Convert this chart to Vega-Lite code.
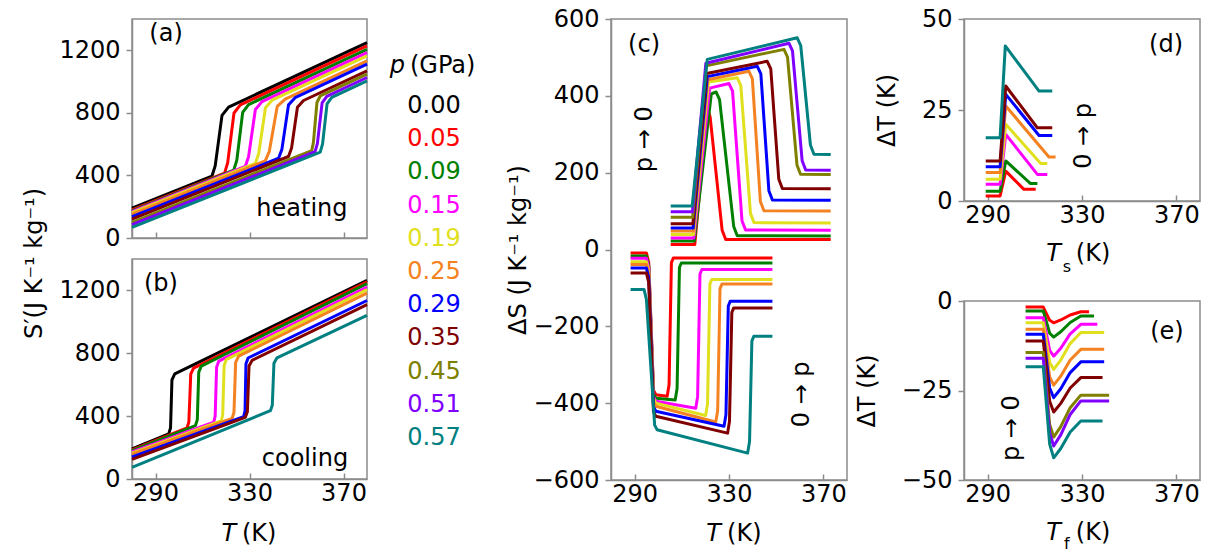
{
  "$schema": "https://vega.github.io/schema/vega-lite/v6.json",
  "background": "white",
  "padding": {"left": 22, "top": 6, "right": 5, "bottom": 5},
  "config": {
    "font": "DejaVu Sans",
    "view": {"stroke": "#8c8c8c", "strokeWidth": 1.5},
    "axis": {"domainColor": "#8c8c8c", "domainWidth": 1.5, "tickColor": "#8c8c8c", "tickWidth": 1.5, "tickSize": 6, "labelPadding": 6, "labelFontSize": 24, "titleFontSize": 24, "labelColor": "black", "titleColor": "black", "titleFontWeight": "normal", "labelFont": "DejaVu Sans", "titleFont": "DejaVu Sans", "grid": false},
    "axisX": {"tickSize": -6, "labelPadding": 8, "titlePadding": 12},
    "line": {"strokeWidth": 3, "strokeJoin": "round"},
    "text": {"font": "DejaVu Sans", "fontSize": 24, "color": "black"}
  },
  "datasets": {
    "a": [
      {"p":"0.00","T":280,"S":191},{"p":"0.00","T":314.0,"S":395},{"p":"0.00","T":315.4,"S":461},{"p":"0.00","T":318.3,"S":784},{"p":"0.00","T":321.1,"S":837},{"p":"0.00","T":380,"S":1249},
      {"p":"0.05","T":280,"S":179},{"p":"0.05","T":319.4,"S":415},{"p":"0.05","T":320.7,"S":480},{"p":"0.05","T":323.4,"S":799},{"p":"0.05","T":326.1,"S":851},{"p":"0.05","T":380,"S":1228},
      {"p":"0.09","T":280,"S":174},{"p":"0.09","T":323.3,"S":434},{"p":"0.09","T":324.6,"S":497},{"p":"0.09","T":327.1,"S":803},{"p":"0.09","T":329.6,"S":853},{"p":"0.09","T":380,"S":1206},
      {"p":"0.15","T":280,"S":168},{"p":"0.15","T":328.2,"S":457},{"p":"0.15","T":329.6,"S":519},{"p":"0.15","T":332.5,"S":822},{"p":"0.15","T":335.3,"S":872},{"p":"0.15","T":380,"S":1185},
      {"p":"0.19","T":280,"S":162},{"p":"0.19","T":332.5,"S":477},{"p":"0.19","T":333.9,"S":538},{"p":"0.19","T":336.8,"S":833},{"p":"0.19","T":339.6,"S":881},{"p":"0.19","T":380,"S":1164},
      {"p":"0.25","T":280,"S":153},{"p":"0.25","T":336.7,"S":493},{"p":"0.25","T":338.4,"S":552},{"p":"0.25","T":341.8,"S":841},{"p":"0.25","T":345.2,"S":888},{"p":"0.25","T":380,"S":1132},
      {"p":"0.29","T":280,"S":136},{"p":"0.29","T":342.4,"S":510},{"p":"0.29","T":343.8,"S":568},{"p":"0.29","T":346.6,"S":851},{"p":"0.29","T":349.4,"S":897},{"p":"0.29","T":380,"S":1111},
      {"p":"0.35","T":280,"S":121},{"p":"0.35","T":346.6,"S":521},{"p":"0.35","T":347.9,"S":575},{"p":"0.35","T":350.4,"S":836},{"p":"0.35","T":353.0,"S":879},{"p":"0.35","T":380,"S":1068},
      {"p":"0.45","T":280,"S":100},{"p":"0.45","T":356.5,"S":559},{"p":"0.45","T":357.2,"S":611},{"p":"0.45","T":358.7,"S":866},{"p":"0.45","T":360.1,"S":908},{"p":"0.45","T":380,"S":1047},
      {"p":"0.51","T":280,"S":85},{"p":"0.51","T":357.9,"S":552},{"p":"0.51","T":358.9,"S":605},{"p":"0.51","T":360.9,"S":864},{"p":"0.51","T":362.9,"S":906},{"p":"0.51","T":380,"S":1026},
      {"p":"0.57","T":280,"S":68},{"p":"0.57","T":360.1,"S":549},{"p":"0.57","T":361.1,"S":602},{"p":"0.57","T":363.0,"S":857},{"p":"0.57","T":365.0,"S":899},{"p":"0.57","T":380,"S":1004}
    ],
    "b": [
      {"p":"0.00","T":280,"S":191},{"p":"0.00","T":295.6,"S":287},{"p":"0.00","T":296.4,"S":325},{"p":"0.00","T":297.0,"S":631},{"p":"0.00","T":298.2,"S":669},{"p":"0.00","T":380,"S":1264},
      {"p":"0.05","T":280,"S":185},{"p":"0.05","T":303.4,"S":325},{"p":"0.05","T":304.2,"S":363},{"p":"0.05","T":305.0,"S":667},{"p":"0.05","T":306.2,"S":705},{"p":"0.05","T":380,"S":1255},
      {"p":"0.09","T":280,"S":180},{"p":"0.09","T":307.0,"S":340},{"p":"0.09","T":307.8,"S":378},{"p":"0.09","T":308.4,"S":680},{"p":"0.09","T":309.5,"S":718},{"p":"0.09","T":380,"S":1243},
      {"p":"0.15","T":280,"S":172},{"p":"0.15","T":314.8,"S":362},{"p":"0.15","T":315.4,"S":401},{"p":"0.15","T":316.0,"S":711},{"p":"0.15","T":316.9,"S":750},{"p":"0.15","T":380,"S":1222},
      {"p":"0.19","T":280,"S":165},{"p":"0.19","T":318.0,"S":370},{"p":"0.19","T":318.6,"S":409},{"p":"0.19","T":319.2,"S":721},{"p":"0.19","T":320.1,"S":760},{"p":"0.19","T":380,"S":1205},
      {"p":"0.25","T":280,"S":158},{"p":"0.25","T":322.6,"S":385},{"p":"0.25","T":323.4,"S":425},{"p":"0.25","T":324.1,"S":742},{"p":"0.25","T":325.4,"S":782},{"p":"0.25","T":380,"S":1183},
      {"p":"0.29","T":280,"S":140},{"p":"0.29","T":327.5,"S":397},{"p":"0.29","T":328.1,"S":434},{"p":"0.29","T":328.5,"S":733},{"p":"0.29","T":329.4,"S":770},{"p":"0.29","T":380,"S":1136},
      {"p":"0.35","T":280,"S":125},{"p":"0.35","T":328.2,"S":392},{"p":"0.35","T":329.1,"S":428},{"p":"0.35","T":329.8,"S":719},{"p":"0.35","T":331.1,"S":755},{"p":"0.35","T":380,"S":1110},
      {"p":"0.57","T":280,"S":74},{"p":"0.57","T":338.9,"S":435},{"p":"0.57","T":339.7,"S":469},{"p":"0.57","T":340.4,"S":737},{"p":"0.57","T":341.7,"S":771},{"p":"0.57","T":380,"S":1041}
    ],
    "c": [
      {"p":"0.05","g":"up","T":305.3,"S":13},{"p":"0.05","g":"up","T":315.5,"S":13},{"p":"0.05","g":"up","T":320.8,"S":369},{"p":"0.05","g":"up","T":322.0,"S":345},{"p":"0.05","g":"up","T":327.1,"S":50},{"p":"0.05","g":"up","T":328.6,"S":26},{"p":"0.05","g":"up","T":373.1,"S":26},
      {"p":"0.09","g":"up","T":305.3,"S":22},{"p":"0.09","g":"up","T":315.3,"S":22},{"p":"0.09","g":"up","T":322.5,"S":405},{"p":"0.09","g":"up","T":324.5,"S":410},{"p":"0.09","g":"up","T":326.0,"S":390},{"p":"0.09","g":"up","T":332.0,"S":60},{"p":"0.09","g":"up","T":333.5,"S":36},{"p":"0.09","g":"up","T":373.1,"S":35},
      {"p":"0.15","g":"up","T":305.3,"S":30},{"p":"0.15","g":"up","T":315.1,"S":30},{"p":"0.15","g":"up","T":321.8,"S":420},{"p":"0.15","g":"up","T":330.0,"S":432},{"p":"0.15","g":"up","T":331.5,"S":412},{"p":"0.15","g":"up","T":335.5,"S":75},{"p":"0.15","g":"up","T":337.0,"S":51},{"p":"0.15","g":"up","T":373.1,"S":50},
      {"p":"0.19","g":"up","T":305.3,"S":39},{"p":"0.19","g":"up","T":315.0,"S":39},{"p":"0.19","g":"up","T":321.3,"S":436},{"p":"0.19","g":"up","T":333.5,"S":447},{"p":"0.19","g":"up","T":335.0,"S":427},{"p":"0.19","g":"up","T":339.1,"S":94},{"p":"0.19","g":"up","T":340.6,"S":70},{"p":"0.19","g":"up","T":373.1,"S":69},
      {"p":"0.25","g":"up","T":305.3,"S":48},{"p":"0.25","g":"up","T":314.9,"S":48},{"p":"0.25","g":"up","T":321.0,"S":442},{"p":"0.25","g":"up","T":338.4,"S":464},{"p":"0.25","g":"up","T":339.9,"S":444},{"p":"0.25","g":"up","T":343.3,"S":125},{"p":"0.25","g":"up","T":344.8,"S":101},{"p":"0.25","g":"up","T":373.1,"S":100},
      {"p":"0.29","g":"up","T":305.3,"S":56},{"p":"0.29","g":"up","T":314.8,"S":56},{"p":"0.29","g":"up","T":320.8,"S":450},{"p":"0.29","g":"up","T":342.0,"S":477},{"p":"0.29","g":"up","T":343.5,"S":457},{"p":"0.29","g":"up","T":346.9,"S":153},{"p":"0.29","g":"up","T":348.4,"S":129},{"p":"0.29","g":"up","T":373.1,"S":128},
      {"p":"0.35","g":"up","T":305.3,"S":67},{"p":"0.35","g":"up","T":314.7,"S":67},{"p":"0.35","g":"up","T":320.5,"S":458},{"p":"0.35","g":"up","T":346.2,"S":490},{"p":"0.35","g":"up","T":347.7,"S":470},{"p":"0.35","g":"up","T":351.1,"S":183},{"p":"0.35","g":"up","T":352.6,"S":159},{"p":"0.35","g":"up","T":373.1,"S":158},
      {"p":"0.45","g":"up","T":305.3,"S":84},{"p":"0.45","g":"up","T":314.6,"S":84},{"p":"0.45","g":"up","T":320.3,"S":478},{"p":"0.45","g":"up","T":353.3,"S":521},{"p":"0.45","g":"up","T":354.8,"S":501},{"p":"0.45","g":"up","T":358.8,"S":220},{"p":"0.45","g":"up","T":360.3,"S":196},{"p":"0.45","g":"up","T":373.1,"S":195},
      {"p":"0.51","g":"up","T":305.3,"S":98},{"p":"0.51","g":"up","T":314.5,"S":98},{"p":"0.51","g":"up","T":320.2,"S":485},{"p":"0.51","g":"up","T":355.4,"S":537},{"p":"0.51","g":"up","T":356.9,"S":517},{"p":"0.51","g":"up","T":361.0,"S":231},{"p":"0.51","g":"up","T":362.5,"S":207},{"p":"0.51","g":"up","T":373.1,"S":206},
      {"p":"0.57","g":"up","T":305.3,"S":113},{"p":"0.57","g":"up","T":314.4,"S":113},{"p":"0.57","g":"up","T":320.8,"S":495},{"p":"0.57","g":"up","T":358.9,"S":551},{"p":"0.57","g":"up","T":360.4,"S":531},{"p":"0.57","g":"up","T":364.5,"S":272},{"p":"0.57","g":"up","T":366.0,"S":248},{"p":"0.57","g":"up","T":373.1,"S":247},
      {"p":"0.05","g":"down","T":288.3,"S":-9},{"p":"0.05","g":"down","T":295.0,"S":-9},{"p":"0.05","g":"down","T":296.0,"S":-34},{"p":"0.05","g":"down","T":298.0,"S":-366},{"p":"0.05","g":"down","T":299.0,"S":-378},{"p":"0.05","g":"down","T":303.8,"S":-382},{"p":"0.05","g":"down","T":304.6,"S":-352},{"p":"0.05","g":"down","T":305.6,"S":-34},{"p":"0.05","g":"down","T":306.4,"S":-22},{"p":"0.05","g":"down","T":348.4,"S":-22},
      {"p":"0.09","g":"down","T":288.3,"S":-17},{"p":"0.09","g":"down","T":295.0,"S":-17},{"p":"0.09","g":"down","T":296.0,"S":-42},{"p":"0.09","g":"down","T":298.0,"S":-375},{"p":"0.09","g":"down","T":299.0,"S":-387},{"p":"0.09","g":"down","T":307.2,"S":-392},{"p":"0.09","g":"down","T":308.0,"S":-362},{"p":"0.09","g":"down","T":309.0,"S":-47},{"p":"0.09","g":"down","T":309.8,"S":-35},{"p":"0.09","g":"down","T":348.4,"S":-35},
      {"p":"0.15","g":"down","T":288.3,"S":-23},{"p":"0.15","g":"down","T":295.0,"S":-23},{"p":"0.15","g":"down","T":296.0,"S":-48},{"p":"0.15","g":"down","T":298.0,"S":-383},{"p":"0.15","g":"down","T":299.0,"S":-395},{"p":"0.15","g":"down","T":315.9,"S":-413},{"p":"0.15","g":"down","T":316.7,"S":-383},{"p":"0.15","g":"down","T":317.7,"S":-64},{"p":"0.15","g":"down","T":318.5,"S":-52},{"p":"0.15","g":"down","T":348.4,"S":-52},
      {"p":"0.19","g":"down","T":288.3,"S":-32},{"p":"0.19","g":"down","T":295.0,"S":-32},{"p":"0.19","g":"down","T":296.0,"S":-57},{"p":"0.19","g":"down","T":298.0,"S":-388},{"p":"0.19","g":"down","T":299.0,"S":-400},{"p":"0.19","g":"down","T":320.1,"S":-432},{"p":"0.19","g":"down","T":320.9,"S":-402},{"p":"0.19","g":"down","T":321.9,"S":-90},{"p":"0.19","g":"down","T":322.7,"S":-78},{"p":"0.19","g":"down","T":348.4,"S":-78},
      {"p":"0.25","g":"down","T":288.3,"S":-39},{"p":"0.25","g":"down","T":295.0,"S":-39},{"p":"0.25","g":"down","T":296.0,"S":-64},{"p":"0.25","g":"down","T":298.0,"S":-396},{"p":"0.25","g":"down","T":299.0,"S":-408},{"p":"0.25","g":"down","T":324.4,"S":-449},{"p":"0.25","g":"down","T":325.2,"S":-419},{"p":"0.25","g":"down","T":326.2,"S":-102},{"p":"0.25","g":"down","T":327.0,"S":-90},{"p":"0.25","g":"down","T":348.4,"S":-90},
      {"p":"0.29","g":"down","T":288.3,"S":-48},{"p":"0.29","g":"down","T":295.0,"S":-48},{"p":"0.29","g":"down","T":296.0,"S":-73},{"p":"0.29","g":"down","T":298.0,"S":-409},{"p":"0.29","g":"down","T":299.0,"S":-421},{"p":"0.29","g":"down","T":327.9,"S":-460},{"p":"0.29","g":"down","T":328.7,"S":-430},{"p":"0.29","g":"down","T":329.7,"S":-147},{"p":"0.29","g":"down","T":330.5,"S":-135},{"p":"0.29","g":"down","T":348.4,"S":-135},
      {"p":"0.35","g":"down","T":288.3,"S":-61},{"p":"0.35","g":"down","T":295.0,"S":-61},{"p":"0.35","g":"down","T":296.0,"S":-86},{"p":"0.35","g":"down","T":298.0,"S":-422},{"p":"0.35","g":"down","T":299.0,"S":-434},{"p":"0.35","g":"down","T":329.4,"S":-478},{"p":"0.35","g":"down","T":330.2,"S":-448},{"p":"0.35","g":"down","T":331.2,"S":-164},{"p":"0.35","g":"down","T":332.0,"S":-152},{"p":"0.35","g":"down","T":348.4,"S":-152},
      {"p":"0.57","g":"down","T":288.3,"S":-104},{"p":"0.57","g":"down","T":294.0,"S":-104},{"p":"0.57","g":"down","T":295.0,"S":-130},{"p":"0.57","g":"down","T":298.5,"S":-457},{"p":"0.57","g":"down","T":299.5,"S":-469},{"p":"0.57","g":"down","T":337.9,"S":-530},{"p":"0.57","g":"down","T":338.7,"S":-500},{"p":"0.57","g":"down","T":339.7,"S":-238},{"p":"0.57","g":"down","T":340.5,"S":-226},{"p":"0.57","g":"down","T":348.4,"S":-226}
    ],
    "d": [
      {"p":"0.05","T":289.2,"D":1.4},{"p":"0.05","T":295.3,"D":1.4},{"p":"0.05","T":297.7,"D":8.2},{"p":"0.05","T":305.4,"D":3.2},{"p":"0.05","T":310.4,"D":3.2},
      {"p":"0.09","T":289.2,"D":2.7},{"p":"0.09","T":295.3,"D":2.7},{"p":"0.09","T":297.7,"D":11.0},{"p":"0.09","T":308.2,"D":4.8},{"p":"0.09","T":311.1,"D":4.8},
      {"p":"0.15","T":289.2,"D":4.6},{"p":"0.15","T":295.3,"D":4.6},{"p":"0.15","T":297.7,"D":18.3},{"p":"0.15","T":311.1,"D":7.3},{"p":"0.15","T":315.3,"D":7.3},
      {"p":"0.19","T":289.2,"D":6.0},{"p":"0.19","T":295.3,"D":6.0},{"p":"0.19","T":297.7,"D":21.1},{"p":"0.19","T":312.5,"D":10.3},{"p":"0.19","T":315.3,"D":10.3},
      {"p":"0.25","T":289.2,"D":7.8},{"p":"0.25","T":295.3,"D":7.8},{"p":"0.25","T":297.7,"D":26.1},{"p":"0.25","T":316.0,"D":12.1},{"p":"0.25","T":318.8,"D":12.1},
      {"p":"0.29","T":289.2,"D":9.4},{"p":"0.29","T":295.3,"D":9.4},{"p":"0.29","T":297.7,"D":29.3},{"p":"0.29","T":311.8,"D":18.0},{"p":"0.29","T":317.4,"D":18.0},
      {"p":"0.35","T":289.2,"D":11.0},{"p":"0.35","T":295.3,"D":11.0},{"p":"0.35","T":297.7,"D":31.6},{"p":"0.35","T":311.1,"D":20.1},{"p":"0.35","T":317.4,"D":20.1},
      {"p":"0.57","T":289.2,"D":17.4},{"p":"0.57","T":295.3,"D":17.4},{"p":"0.57","T":297.5,"D":42.6},{"p":"0.57","T":311.8,"D":30.2},{"p":"0.57","T":317.4,"D":30.2}
    ],
    "e": [
      {"p":"0.05","T":306.1,"D":-1.7},{"p":"0.05","T":313.6,"D":-1.7},{"p":"0.05","T":316.3,"D":-5.4},{"p":"0.05","T":318.0,"D":-6.1},{"p":"0.05","T":321.0,"D":-5.3},{"p":"0.05","T":325.0,"D":-3.9},{"p":"0.05","T":329.5,"D":-3.0},{"p":"0.05","T":333.0,"D":-3.0},
      {"p":"0.09","T":306.1,"D":-2.8},{"p":"0.09","T":313.6,"D":-2.8},{"p":"0.09","T":316.3,"D":-9.0},{"p":"0.09","T":318.0,"D":-10.1},{"p":"0.09","T":321.0,"D":-8.6},{"p":"0.09","T":325.0,"D":-6.0},{"p":"0.09","T":329.5,"D":-4.2},{"p":"0.09","T":335.1,"D":-4.2},
      {"p":"0.15","T":306.1,"D":-4.7},{"p":"0.15","T":313.6,"D":-4.7},{"p":"0.15","T":316.3,"D":-13.8},{"p":"0.15","T":318.0,"D":-15.4},{"p":"0.15","T":321.0,"D":-13.2},{"p":"0.15","T":325.0,"D":-9.2},{"p":"0.15","T":329.5,"D":-6.5},{"p":"0.15","T":336.5,"D":-6.5},
      {"p":"0.19","T":306.1,"D":-6.1},{"p":"0.19","T":313.6,"D":-6.1},{"p":"0.19","T":316.3,"D":-17.2},{"p":"0.19","T":318.0,"D":-19.1},{"p":"0.19","T":321.0,"D":-16.5},{"p":"0.19","T":325.0,"D":-11.9},{"p":"0.19","T":329.5,"D":-8.8},{"p":"0.19","T":339.4,"D":-8.8},
      {"p":"0.25","T":306.1,"D":-7.9},{"p":"0.25","T":313.6,"D":-7.9},{"p":"0.25","T":316.3,"D":-21.2},{"p":"0.25","T":318.0,"D":-23.5},{"p":"0.25","T":321.0,"D":-21.0},{"p":"0.25","T":325.0,"D":-16.5},{"p":"0.25","T":329.5,"D":-13.5},{"p":"0.25","T":339.4,"D":-13.5},
      {"p":"0.29","T":306.1,"D":-9.3},{"p":"0.29","T":313.6,"D":-9.3},{"p":"0.29","T":316.3,"D":-24.3},{"p":"0.29","T":318.0,"D":-27.0},{"p":"0.29","T":321.0,"D":-24.5},{"p":"0.29","T":325.0,"D":-20.0},{"p":"0.29","T":329.5,"D":-17.0},{"p":"0.29","T":339.4,"D":-17.0},
      {"p":"0.35","T":306.1,"D":-11.2},{"p":"0.35","T":313.6,"D":-11.2},{"p":"0.35","T":316.3,"D":-28.0},{"p":"0.35","T":318.0,"D":-31.0},{"p":"0.35","T":321.0,"D":-28.6},{"p":"0.35","T":325.0,"D":-24.3},{"p":"0.35","T":329.5,"D":-21.4},{"p":"0.35","T":338.7,"D":-21.4},
      {"p":"0.45","T":306.1,"D":-14.4},{"p":"0.45","T":313.6,"D":-14.4},{"p":"0.45","T":316.3,"D":-34.5},{"p":"0.45","T":318.0,"D":-38.0},{"p":"0.45","T":321.0,"D":-35.1},{"p":"0.45","T":325.0,"D":-29.8},{"p":"0.45","T":329.5,"D":-26.3},{"p":"0.45","T":341.5,"D":-26.3},
      {"p":"0.51","T":306.1,"D":-16.0},{"p":"0.51","T":313.6,"D":-16.0},{"p":"0.51","T":316.3,"D":-36.8},{"p":"0.51","T":318.0,"D":-40.5},{"p":"0.51","T":321.0,"D":-37.4},{"p":"0.51","T":325.0,"D":-31.7},{"p":"0.51","T":329.5,"D":-27.9},{"p":"0.51","T":341.5,"D":-27.9},
      {"p":"0.57","T":306.1,"D":-18.4},{"p":"0.57","T":313.6,"D":-18.4},{"p":"0.57","T":316.3,"D":-40.0},{"p":"0.57","T":318.0,"D":-43.8},{"p":"0.57","T":321.0,"D":-41.2},{"p":"0.57","T":325.0,"D":-36.6},{"p":"0.57","T":329.5,"D":-33.5},{"p":"0.57","T":338.7,"D":-33.5}
    ],
    "legend": [
      {"p":"0.00"},{"p":"0.05"},{"p":"0.09"},{"p":"0.15"},{"p":"0.19"},{"p":"0.25"},{"p":"0.29"},{"p":"0.35"},{"p":"0.45"},{"p":"0.51"},{"p":"0.57"}
    ]
  },
  "bounds": "flush",
  "spacing": 0,
  "hconcat": [
    {
      "bounds": "flush",
      "spacing": 21,
      "vconcat": [
        {
          "width": 235, "height": 219,
          "layer": [
            {
              "data": {"name": "a"},
              "mark": {"type": "line"},
              "encoding": {
                "x": {"field": "T", "type": "quantitative", "scale": {"domain": [280, 380], "nice": false, "zero": false}, "axis": {"values": [290, 330, 370], "labels": false, "title": null}},
                "y": {"field": "S", "type": "quantitative", "scale": {"domain": [0, 1400], "nice": false}, "axis": {"values": [0, 400, 800, 1200], "format": "d", "title": null}},
                "color": {"field": "p", "type": "nominal", "legend": null, "scale": {"domain": ["0.00","0.05","0.09","0.15","0.19","0.25","0.29","0.35","0.45","0.51","0.57"], "range": ["#000000","#ff0000","#008000","#ff00ff","#e1e01e","#f58220","#0000ff","#800000","#808000","#8000ff","#008080"]}}
              }
            },
            {"data": {"values": [{"t": "(a)"}]}, "mark": {"type": "text", "align": "center", "baseline": "middle"}, "encoding": {"text": {"field": "t"}, "x": {"datum": 294.5}, "y": {"datum": 1303}}},
            {"data": {"values": [{"t": "heating"}]}, "mark": {"type": "text", "align": "center", "baseline": "middle"}, "encoding": {"text": {"field": "t"}, "x": {"datum": 352.3}, "y": {"datum": 185}}}
          ]
        },
        {
          "width": 235, "height": 220,
          "layer": [
            {
              "data": {"name": "b"},
              "mark": {"type": "line"},
              "encoding": {
                "x": {"field": "T", "type": "quantitative", "scale": {"domain": [280, 380], "nice": false, "zero": false}, "axis": {"values": [290, 330, 370], "title": null}},
                "y": {"field": "S", "type": "quantitative", "scale": {"domain": [0, 1400], "nice": false}, "axis": {"values": [0, 400, 800, 1200], "format": "d", "title": "S′(J K⁻¹ kg⁻¹)", "titleY": 4, "titlePadding": 12}},
                "color": {"field": "p", "type": "nominal", "legend": null, "scale": {"domain": ["0.00","0.05","0.09","0.15","0.19","0.25","0.29","0.35","0.45","0.51","0.57"], "range": ["#000000","#ff0000","#008000","#ff00ff","#e1e01e","#f58220","#0000ff","#800000","#808000","#8000ff","#008080"]}}
              }
            },
            {"data": {"values": [{"t": "(b)"}]}, "mark": {"type": "text", "align": "center", "baseline": "middle"}, "encoding": {"text": {"field": "t"}, "x": {"datum": 292.3}, "y": {"datum": 1240}}},
            {"data": {"values": [{"t": "cooling"}]}, "mark": {"type": "text", "align": "center", "baseline": "middle"}, "encoding": {"text": {"field": "t"}, "x": {"datum": 353.6}, "y": {"datum": 127}}},
            {"data": {"values": [{"t": "T"}]}, "mark": {"type": "text", "align": "right", "baseline": "alphabetic", "fontStyle": "italic", "dy": 62}, "encoding": {"text": {"field": "t"}, "x": {"datum": 324.3}, "y": {"datum": 0}}},
            {"data": {"values": [{"t": "(K)"}]}, "mark": {"type": "text", "align": "left", "baseline": "alphabetic", "dy": 62}, "encoding": {"text": {"field": "t"}, "x": {"datum": 326.8}, "y": {"datum": 0}}}
          ]
        }
      ]
    },
    {
      "width": 235, "height": 461,
      "view": {"stroke": null},
      "data": {"values": []},
      "mark": {"type": "text"},
      "encoding": {}
    },
    {
      "width": 134, "height": 461,
      "view": {"stroke": null},
      "layer": [
        {
          "data": {"name": "legend"},
          "mark": {"type": "text", "align": "center", "baseline": "middle"},
          "encoding": {
            "y": {"field": "p", "type": "ordinal", "scale": {"type": "point", "domain": ["0.00","0.05","0.09","0.15","0.19","0.25","0.29","0.35","0.45","0.51","0.57"], "range": [87, 419], "padding": 0}, "axis": null},
            "text": {"field": "p"},
            "color": {"field": "p", "type": "nominal", "legend": null, "scale": {"domain": ["0.00","0.05","0.09","0.15","0.19","0.25","0.29","0.35","0.45","0.51","0.57"], "range": ["#000000","#ff0000","#008000","#ff00ff","#e1e01e","#f58220","#0000ff","#800000","#808000","#8000ff","#008080"]}}
          }
        },
        {
          "data": {"values": [{"t": "p"}]},
          "mark": {"type": "text", "align": "right", "baseline": "middle", "fontStyle": "italic", "dx": -29, "dy": -40},
          "encoding": {"y": {"datum": "0.00", "type": "ordinal"}, "text": {"field": "t"}}
        },
        {
          "data": {"values": [{"t": "(GPa)"}]},
          "mark": {"type": "text", "align": "left", "baseline": "middle", "dx": -24, "dy": -40},
          "encoding": {"y": {"datum": "0.00", "type": "ordinal"}, "text": {"field": "t"}}
        }
      ]
    },
    {
      "width": 110, "height": 461,
      "view": {"stroke": null},
      "data": {"values": []},
      "mark": {"type": "text"},
      "encoding": {}
    },
    {
      "width": 236, "height": 461,
      "layer": [
        {
          "data": {"name": "c"},
          "mark": {"type": "line"},
          "encoding": {
            "x": {"field": "T", "type": "quantitative", "scale": {"domain": [280, 380], "nice": false, "zero": false}, "axis": {"values": [290, 330, 370], "title": null}},
            "y": {"field": "S", "type": "quantitative", "scale": {"domain": [-600, 600], "nice": false}, "axis": {"values": [-600, -400, -200, 0, 200, 400, 600], "title": "ΔS (J K⁻¹ kg⁻¹)", "titlePadding": 3}},
            "detail": {"field": "g"},
            "color": {"field": "p", "type": "nominal", "legend": null, "scale": {"domain": ["0.00","0.05","0.09","0.15","0.19","0.25","0.29","0.35","0.45","0.51","0.57"], "range": ["#000000","#ff0000","#008000","#ff00ff","#e1e01e","#f58220","#0000ff","#800000","#808000","#8000ff","#008080"]}}
          }
        },
        {"data": {"values": [{"t": "(c)"}]}, "mark": {"type": "text", "align": "center", "baseline": "middle"}, "encoding": {"text": {"field": "t"}, "x": {"datum": 294}, "y": {"datum": 532}}},
        {"data": {"values": [{"t": "p → 0"}]}, "mark": {"type": "text", "align": "center", "baseline": "middle", "angle": 270}, "encoding": {"text": {"field": "t"}, "x": {"datum": 294.4}, "y": {"datum": 287}}},
        {"data": {"values": [{"t": "0 → p"}]}, "mark": {"type": "text", "align": "center", "baseline": "middle", "angle": 270}, "encoding": {"text": {"field": "t"}, "x": {"datum": 361}, "y": {"datum": -377}}},
        {"data": {"values": [{"t": "T"}]}, "mark": {"type": "text", "align": "right", "baseline": "alphabetic", "fontStyle": "italic", "dy": 61}, "encoding": {"text": {"field": "t"}, "x": {"datum": 326.6}, "y": {"datum": -600}}},
        {"data": {"values": [{"t": "(K)"}]}, "mark": {"type": "text", "align": "left", "baseline": "alphabetic", "dy": 61}, "encoding": {"text": {"field": "t"}, "x": {"datum": 329.2}, "y": {"datum": -600}}}
      ]
    },
    {
      "width": 117, "height": 461,
      "view": {"stroke": null},
      "data": {"values": []},
      "mark": {"type": "text"},
      "encoding": {}
    },
    {
      "bounds": "flush",
      "spacing": 100,
      "vconcat": [
        {
          "width": 236, "height": 182,
          "layer": [
            {
              "data": {"name": "d"},
              "mark": {"type": "line"},
              "encoding": {
                "x": {"field": "T", "type": "quantitative", "scale": {"domain": [280, 380], "nice": false, "zero": false}, "axis": {"values": [290, 330, 370], "title": null}},
                "y": {"field": "D", "type": "quantitative", "scale": {"domain": [0, 50], "nice": false}, "axis": {"values": [0, 25, 50], "title": "ΔT (K)", "titlePadding": 22}},
                "color": {"field": "p", "type": "nominal", "legend": null, "scale": {"domain": ["0.00","0.05","0.09","0.15","0.19","0.25","0.29","0.35","0.45","0.51","0.57"], "range": ["#000000","#ff0000","#008000","#ff00ff","#e1e01e","#f58220","#0000ff","#800000","#808000","#8000ff","#008080"]}}
              }
            },
            {"data": {"values": [{"t": "(d)"}]}, "mark": {"type": "text", "align": "center", "baseline": "middle"}, "encoding": {"text": {"field": "t"}, "x": {"datum": 365.6}, "y": {"datum": 42.9}}},
            {"data": {"values": [{"t": "0 → p"}]}, "mark": {"type": "text", "align": "center", "baseline": "middle", "angle": 270}, "encoding": {"text": {"field": "t"}, "x": {"datum": 330.8}, "y": {"datum": 17.9}}},
            {"data": {"values": [{"t": "T"}]}, "mark": {"type": "text", "align": "right", "baseline": "alphabetic", "fontStyle": "italic", "dy": 60}, "encoding": {"text": {"field": "t"}, "x": {"datum": 321.1}, "y": {"datum": 0}}},
            {"data": {"values": [{"t": "s"}]}, "mark": {"type": "text", "align": "center", "baseline": "alphabetic", "fontSize": 16, "dy": 71}, "encoding": {"text": {"field": "t"}, "x": {"datum": 323.6}, "y": {"datum": 0}}},
            {"data": {"values": [{"t": "(K)"}]}, "mark": {"type": "text", "align": "left", "baseline": "alphabetic", "dy": 60}, "encoding": {"text": {"field": "t"}, "x": {"datum": 327.4}, "y": {"datum": 0}}}
          ]
        },
        {
          "width": 236, "height": 179,
          "layer": [
            {
              "data": {"name": "e"},
              "mark": {"type": "line"},
              "encoding": {
                "x": {"field": "T", "type": "quantitative", "scale": {"domain": [280, 380], "nice": false, "zero": false}, "axis": {"values": [290, 330, 370], "title": null}},
                "y": {"field": "D", "type": "quantitative", "scale": {"domain": [-50, 0], "nice": false}, "axis": {"values": [-50, -25, 0], "title": "ΔT (K)", "titlePadding": 22}},
                "color": {"field": "p", "type": "nominal", "legend": null, "scale": {"domain": ["0.00","0.05","0.09","0.15","0.19","0.25","0.29","0.35","0.45","0.51","0.57"], "range": ["#000000","#ff0000","#008000","#ff00ff","#e1e01e","#f58220","#0000ff","#800000","#808000","#8000ff","#008080"]}}
              }
            },
            {"data": {"values": [{"t": "(e)"}]}, "mark": {"type": "text", "align": "center", "baseline": "middle"}, "encoding": {"text": {"field": "t"}, "x": {"datum": 366}, "y": {"datum": -8.7}}},
            {"data": {"values": [{"t": "p → 0"}]}, "mark": {"type": "text", "align": "center", "baseline": "middle", "angle": 270}, "encoding": {"text": {"field": "t"}, "x": {"datum": 300.3}, "y": {"datum": -35.5}}},
            {"data": {"values": [{"t": "T"}]}, "mark": {"type": "text", "align": "right", "baseline": "alphabetic", "fontStyle": "italic", "dy": 60}, "encoding": {"text": {"field": "t"}, "x": {"datum": 321.1}, "y": {"datum": -50}}},
            {"data": {"values": [{"t": "f"}]}, "mark": {"type": "text", "align": "center", "baseline": "alphabetic", "fontSize": 16, "dy": 69}, "encoding": {"text": {"field": "t"}, "x": {"datum": 323.6}, "y": {"datum": -50}}},
            {"data": {"values": [{"t": "(K)"}]}, "mark": {"type": "text", "align": "left", "baseline": "alphabetic", "dy": 60}, "encoding": {"text": {"field": "t"}, "x": {"datum": 327.4}, "y": {"datum": -50}}}
          ]
        }
      ]
    }
  ]
}
